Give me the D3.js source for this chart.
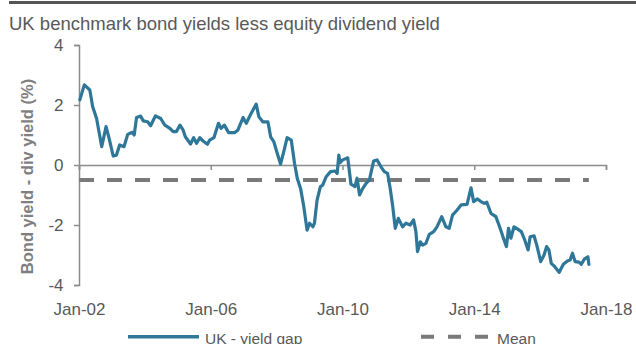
<!DOCTYPE html>
<html>
<head>
<meta charset="utf-8">
<script src="https://cdn.jsdelivr.net/npm/d3@7"></script>
<style>
  html, body { margin: 0; padding: 0; background: #fff; }
  svg { display: block; font-family: "Liberation Sans", Arial, sans-serif; }
</style>
</head>
<body>
<svg id="chart" width="636" height="344"></svg>
<script>
// UK bond yield minus equity dividend yield (percentage points)
const dates = [
  "2002-01-10","2002-03-01","2002-05-01","2002-06-01","2002-07-15","2002-09-10","2002-10-28","2002-12-01",
  "2003-01-15","2003-02-20","2003-03-28","2003-05-15","2003-06-25","2003-08-15","2003-09-05","2003-10-01",
  "2003-11-15","2003-12-15","2004-02-01","2004-03-05","2004-04-28","2004-06-25","2004-08-10","2004-10-05",
  "2004-11-10","2004-12-15","2005-01-25","2005-02-28","2005-03-25","2005-05-22","2005-06-25","2005-07-27",
  "2005-09-01","2005-10-08","2005-11-25","2005-12-20","2006-02-05","2006-03-28","2006-04-25","2006-06-01",
  "2006-07-18","2006-09-24","2006-10-30","2006-12-25","2007-01-30","2007-03-25","2007-05-20","2007-06-18",
  "2007-08-01","2007-09-27","2007-10-27","2007-12-01","2008-01-08","2008-02-14","2008-03-20","2008-04-27",
  "2008-06-12","2008-07-18","2008-08-17","2008-09-23","2008-10-29","2008-12-04","2009-01-01","2009-02-06",
  "2009-02-24","2009-03-25","2009-05-01","2009-05-26","2009-07-04","2009-08-21","2009-10-12","2009-11-03",
  "2009-11-21","2009-12-05","2010-01-04","2010-02-28","2010-04-05","2010-05-19","2010-06-12","2010-07-09",
  "2010-08-14","2010-09-20","2010-10-26","2010-12-12","2011-01-19","2011-03-04","2011-04-09","2011-05-16",
  "2011-06-14","2011-07-10","2011-08-09","2011-09-12","2011-10-29","2011-12-06","2012-01-22","2012-02-28",
  "2012-03-25","2012-04-12","2012-05-12","2012-06-07","2012-07-14","2012-08-21","2012-10-08","2012-11-14",
  "2013-01-05","2013-02-21","2013-03-29","2013-05-05","2013-06-25","2013-08-08","2013-10-13","2013-11-26",
  "2013-12-25","2014-02-06","2014-03-15","2014-04-21","2014-05-20","2014-07-05","2014-08-29","2014-10-15",
  "2014-11-21","2014-12-24","2015-01-16","2015-02-11","2015-03-18","2015-04-24","2015-06-07","2015-07-15",
  "2015-08-21","2015-09-13","2015-10-26","2015-11-25","2016-01-08","2016-02-14","2016-03-14","2016-04-08",
  "2016-05-04","2016-06-12","2016-07-30","2016-09-15","2016-10-30","2016-11-29","2016-12-25","2017-01-23",
  "2017-03-08","2017-04-02","2017-05-08","2017-06-14","2017-06-25"
];
const yieldGap = [
  2.17, 2.67, 2.50, 1.95, 1.55, 0.61, 1.28, 0.89,
  0.30, 0.33, 0.67, 0.61, 1.02, 1.09, 1.00, 1.58,
  1.63, 1.47, 1.44, 1.31, 1.64, 1.55, 1.33, 1.22,
  1.11, 1.11, 1.33, 1.17, 0.94, 0.70, 0.91, 0.72,
  0.91, 0.80, 0.69, 0.83, 0.91, 1.39, 1.22, 1.33,
  1.08, 1.08, 1.17, 1.58, 1.39, 1.72, 2.03, 1.61,
  1.44, 1.44, 0.94, 0.78, 0.39, 0.03, 0.44, 0.91,
  0.83, 0.06, -0.44, -0.78, -1.39, -2.17, -1.94, -2.06,
  -1.94, -1.17, -0.72, -0.67, -0.39, -0.22, -0.20, -0.28,
  0.33, 0.08, 0.17, 0.24, -0.64, -0.72, -0.44, -1.00,
  -0.78, -0.61, -0.50, 0.13, 0.17, -0.06, -0.22, -0.28,
  -0.78, -1.33, -2.11, -1.78, -2.06, -1.94, -2.00, -1.83,
  -2.22, -2.89, -2.56, -2.67, -2.61, -2.31, -2.22, -2.06,
  -1.72, -2.06, -2.11, -1.67, -1.50, -1.33, -1.31, -0.76,
  -1.22, -1.13, -1.22, -1.28, -1.24, -1.61, -1.72, -2.11,
  -2.44, -2.72, -2.11, -2.44, -2.06, -2.13, -2.22, -2.50,
  -2.83, -2.39, -2.36, -2.67, -3.22, -3.00, -2.72, -2.83,
  -3.28, -3.39, -3.58, -3.31, -3.20, -3.17, -2.94, -3.22,
  -3.24, -3.31, -3.13, -3.06, -3.31
];
const meanValue = -0.5;
const yTicks = [-4, -2, 0, 2, 4];
const xTicks = ["2002-01-01", "2006-01-01", "2010-01-01", "2014-01-01", "2018-01-01"];
const seriesNames = ["UK - yield gap", "Mean"];

const parse = d3.timeParse("%Y-%m-%d");
const points = dates.map((d, i) => ({ date: parse(d), value: yieldGap[i] }));

const svg = d3.select("#chart");
const plot = { left: 79, right: 606, top: 45, bottom: 285 };

const x = d3.scaleTime()
  .domain([parse(xTicks[0]), parse(xTicks[xTicks.length - 1])])
  .range([plot.left, plot.right]);
const y = d3.scaleLinear().domain([-4, 4]).range([plot.bottom, plot.top]);

const axisColor = "#8c8c8c";
const textColor = "#595959";
const blue = "#2f7799";
const grey = "#7a7a7a";

// Header rule and title
svg.append("line")
  .attr("x1", 9).attr("x2", 636).attr("y1", 2.5).attr("y2", 2.5)
  .attr("stroke", "#555").attr("stroke-width", 3);
svg.append("text")
  .attr("x", 9).attr("y", 29.5)
  .attr("fill", textColor).attr("font-size", 18.5)
  .text("UK benchmark bond yields less equity dividend yield");

// Y axis
const yAxis = svg.append("g")
  .attr("transform", `translate(${plot.left},0)`)
  .call(d3.axisLeft(y).tickValues(yTicks).tickSize(5).tickPadding(10.5).tickFormat(d3.format("d")));
yAxis.select(".domain").attr("stroke", axisColor).attr("stroke-width", 1.5);
yAxis.selectAll(".tick line").attr("stroke", axisColor).attr("stroke-width", 1.5);
yAxis.selectAll(".tick text").attr("fill", textColor).attr("font-size", 17)
  .attr("font-family", "Liberation Sans, Arial, sans-serif")
  .text(d => d < 0 ? "-" + Math.abs(d) : d);

// X axis line at zero, with labels along the bottom
const xDates = xTicks.map(parse);
const xAxisLine = svg.append("g")
  .attr("transform", `translate(0,${y(0)})`)
  .call(d3.axisBottom(x).tickValues(xDates).tickSize(5).tickFormat(""));
xAxisLine.select(".domain").attr("stroke", axisColor).attr("stroke-width", 1.5);
xAxisLine.selectAll(".tick line").attr("stroke", axisColor).attr("stroke-width", 1.5);

const xLabels = svg.append("g")
  .attr("transform", `translate(0,${plot.bottom})`)
  .call(d3.axisBottom(x).tickValues(xDates).tickSize(0).tickPadding(18).tickFormat(d3.timeFormat("%b-%y")));
xLabels.select(".domain").remove();
xLabels.selectAll(".tick text").attr("fill", textColor).attr("font-size", 17)
  .attr("font-family", "Liberation Sans, Arial, sans-serif");

// Y axis title
svg.append("text")
  .attr("transform", `translate(33,${(78 + 275) / 2}) rotate(-90)`)
  .attr("text-anchor", "middle")
  .attr("fill", "#7f7f7f").attr("font-size", 16.5).attr("font-weight", "bold")
  .text("Bond yield - div yield (%)");

// Mean line
svg.append("line")
  .attr("x1", x(parse(xTicks[0]))).attr("x2", x(points[points.length - 1].date))
  .attr("y1", y(meanValue)).attr("y2", y(meanValue))
  .attr("stroke", grey).attr("stroke-width", 4).attr("stroke-dasharray", "15,13");

// Yield gap series
svg.append("path")
  .datum(points)
  .attr("fill", "none")
  .attr("stroke", blue).attr("stroke-width", 3.2)
  .attr("stroke-linejoin", "round").attr("stroke-linecap", "round")
  .attr("d", d3.line().x(d => x(d.date)).y(d => y(d.value)));

// Legend
const lg = svg.append("g");
lg.append("line").attr("x1", 128).attr("x2", 199).attr("y1", 336.7).attr("y2", 336.7)
  .attr("stroke", blue).attr("stroke-width", 3.5);
lg.append("text").attr("x", 205).attr("y", 343.5).attr("fill", textColor).attr("font-size", 15.5)
  .text(seriesNames[0]);
lg.append("line").attr("x1", 421).attr("x2", 488).attr("y1", 336.7).attr("y2", 336.7)
  .attr("stroke", grey).attr("stroke-width", 4).attr("stroke-dasharray", "13,14");
lg.append("text").attr("x", 497).attr("y", 343.5).attr("fill", textColor).attr("font-size", 15.5)
  .text(seriesNames[1]);
</script>
</body>
</html>
